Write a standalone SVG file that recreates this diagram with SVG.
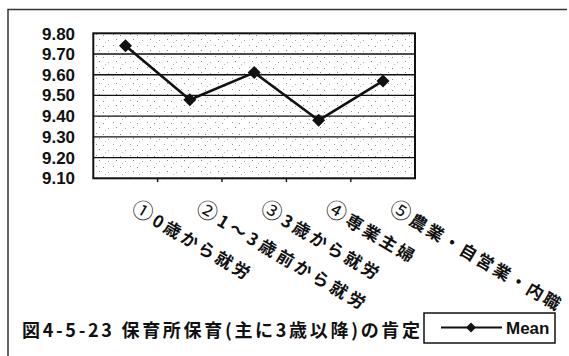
<svg xmlns="http://www.w3.org/2000/svg" width="569" height="356" viewBox="0 0 569 356">
<style>
.ylab{font-family:"Liberation Sans",Arial,sans-serif;font-size:17px;font-weight:bold;fill:#111}
.cat{font-family:"Noto Sans CJK JP","Noto Sans",sans-serif;font-size:17px;font-weight:bold;fill:#111}
.num{font-size:21px;font-weight:normal}
.title{font-family:"Noto Sans CJK JP","Noto Sans",sans-serif;font-size:18px;font-weight:bold;fill:#111}
.leg{font-family:"Liberation Sans",Arial,sans-serif;font-size:17px;font-weight:bold;fill:#111}
.grid{stroke:#111;stroke-width:1.4}
.series{fill:none;stroke:#111;stroke-width:2.6;stroke-linejoin:round}
.mk{fill:#111}
</style>
<defs>
<pattern id="speck" width="17" height="11" patternUnits="userSpaceOnUse">
<rect width="17" height="11" fill="#fff"/>
<rect x="1" y="2" width="1" height="1" fill="#888"/>
<rect x="6" y="7" width="1" height="1" fill="#aaa"/>
<rect x="11" y="1" width="1" height="1" fill="#999"/>
<rect x="14" y="6" width="1" height="1" fill="#888"/>
<rect x="3" y="9" width="1" height="1" fill="#bbb"/>
</pattern>
<path id="dia" d="M0,-6.5 L6.5,0 L0,6.5 L-6.5,0 Z"/>
</defs>
<g id="frame" fill="none" stroke="#333" stroke-width="1.5">
<path d="M8,356 L8,9.5 L567,9.5"/>
</g>
<g id="plot">
<rect x="93.3" y="33.3" width="321.7" height="145" fill="url(#speck)"/>
<g class="grid">
<line x1="93.3" y1="54" x2="415" y2="54"/>
<line x1="93.3" y1="74.7" x2="415" y2="74.7"/>
<line x1="93.3" y1="95.4" x2="415" y2="95.4"/>
<line x1="93.3" y1="116.1" x2="415" y2="116.1"/>
<line x1="93.3" y1="136.9" x2="415" y2="136.9"/>
<line x1="93.3" y1="157.6" x2="415" y2="157.6"/>
<line x1="157.6" y1="178.3" x2="157.6" y2="182"/>
<line x1="222" y1="178.3" x2="222" y2="182"/>
<line x1="286.4" y1="178.3" x2="286.4" y2="182"/>
<line x1="350.8" y1="178.3" x2="350.8" y2="182"/>
</g>
<rect x="93.3" y="33.3" width="321.7" height="145" fill="none" stroke="#111" stroke-width="2"/>
</g>
<g id="yaxis">
<text class="ylab" x="42" y="39.5" textLength="33" lengthAdjust="spacingAndGlyphs">9.80</text>
<text class="ylab" x="42" y="60" textLength="33" lengthAdjust="spacingAndGlyphs">9.70</text>
<text class="ylab" x="42" y="80.7" textLength="33" lengthAdjust="spacingAndGlyphs">9.60</text>
<text class="ylab" x="42" y="101.4" textLength="33" lengthAdjust="spacingAndGlyphs">9.50</text>
<text class="ylab" x="42" y="122.1" textLength="33" lengthAdjust="spacingAndGlyphs">9.40</text>
<text class="ylab" x="42" y="142.9" textLength="33" lengthAdjust="spacingAndGlyphs">9.30</text>
<text class="ylab" x="42" y="163.6" textLength="33" lengthAdjust="spacingAndGlyphs">9.20</text>
<text class="ylab" x="42" y="184.3" textLength="33" lengthAdjust="spacingAndGlyphs">9.10</text>
</g>
<g id="series">
<polyline class="series" points="125.5,45.7 189.8,99.7 254.2,72.6 318.6,120.3 383,80.9"/>
<use href="#dia" class="mk" x="125.5" y="45.7"/>
<use href="#dia" class="mk" x="189.8" y="99.7"/>
<use href="#dia" class="mk" x="254.2" y="72.6"/>
<use href="#dia" class="mk" x="318.6" y="120.3"/>
<use href="#dia" class="mk" x="383" y="80.9"/>
</g>
<g id="categories">
<text class="cat" transform="translate(130,212) rotate(30.5)" textLength="134" lengthAdjust="spacing"><tspan class="num">①</tspan>0歳から就労</text>
<text class="cat" transform="translate(194.5,212) rotate(30.5)" textLength="193" lengthAdjust="spacing"><tspan class="num">②</tspan>1～3歳前から就労</text>
<text class="cat" transform="translate(259,212) rotate(30.5)" textLength="134" lengthAdjust="spacing"><tspan class="num">③</tspan>3歳から就労</text>
<text class="cat" transform="translate(323.5,212) rotate(30.5)" textLength="100" lengthAdjust="spacing"><tspan class="num">④</tspan>専業主婦</text>
<text class="cat" transform="translate(388,212) rotate(30.5)" textLength="195" lengthAdjust="spacing"><tspan class="num">⑤</tspan>農業・自営業・内職</text>
</g>
<g id="title">
<text class="title" x="22" y="337" textLength="398" lengthAdjust="spacing">図4-5-23 保育所保育(主に3歳以降)の肯定</text>
</g>
<g id="legend">
<rect x="424" y="313" width="131" height="30" fill="#fff" stroke="#111" stroke-width="1.5"/>
<line x1="441" y1="327.5" x2="502" y2="327.5" stroke="#111" stroke-width="2.2"/>
<path d="M471,322.5 L476,327.5 L471,332.5 L466,327.5 Z" fill="#111"/>
<text class="leg" x="506" y="334">Mean</text>
</g>
</svg>
